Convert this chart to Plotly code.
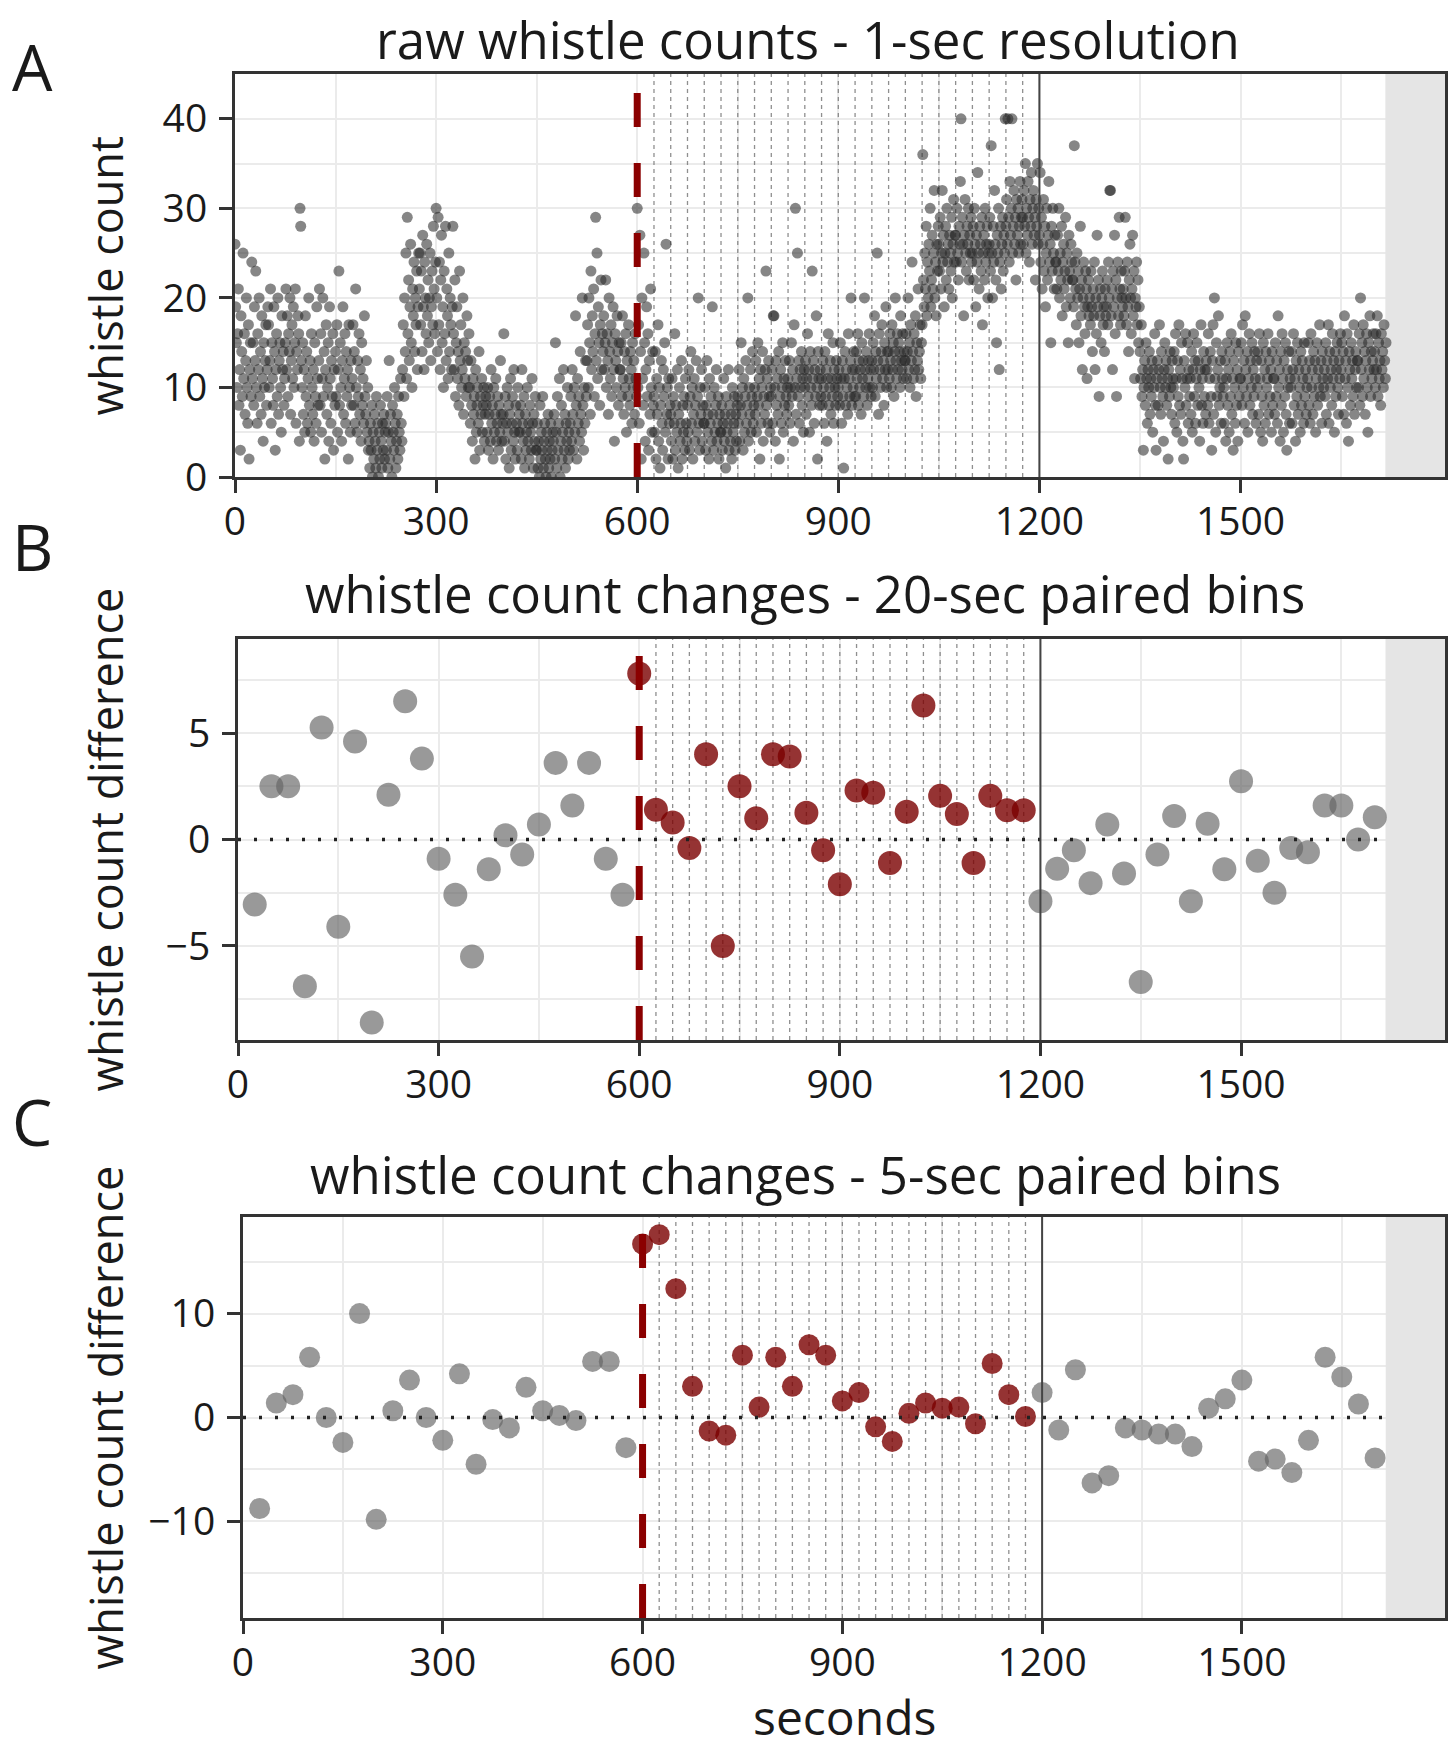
import plotly.graph_objects as go

# the page's default body margin is removed in post_script, so the figure fills the window
PAGE_OFF = 0
WF, HF = 1454, 1750
FONT = "Open Sans"

# ---------------- data ----------------
# Panel A: raw whistle counts, one value per second
whistle_counts_1s = [
    26, 19, 15, 10, 16, 21, 8, 12, 3, 18, 14, 9, 25, 11, 16, 7, 13, 20, 10, 6, 17, 2, 12, 15, 9,
    24, 11, 15, 8, 19, 13, 23, 10, 6, 16, 12, 20, 9, 14, 7, 18, 11, 4, 15, 10, 13, 17, 8, 12, 19,
    17, 10, 13, 21, 6, 15, 11, 8, 19, 14, 3, 12, 16, 9, 20, 7, 13, 15, 10, 5, 18, 12, 14, 8, 11,
    15, 21, 12, 18, 9, 16, 14, 20, 7, 13, 17, 11, 19, 10, 15, 21, 6, 14, 12, 18, 16, 4, 30, 28, 13,
    10, 15, 7, 12, 5, 18, 9, 14, 6, 11, 20, 8, 13, 5, 16, 10, 7, 12, 4, 15, 9, 6, 19, 11, 8,
    13, 21, 8, 16, 5, 11, 20, 9, 14, 2, 12, 17, 7, 10, 15, 4, 19, 11, 6, 13, 9, 16, 3, 12, 8,
    14, 9, 17, 5, 12, 23, 8, 15, 10, 4, 13, 19, 7, 11, 16, 6, 14, 9, 12, 2, 17, 10, 5, 13, 8,
    11, 17, 8, 14, 6, 21, 10, 5, 13, 9, 16, 7, 12, 4, 15, 8, 11, 6, 18, 9, 7, 13, 5, 10, 3,
    4, 1, 6, 3, 8, 0, 5, 2, 7, 4, 1, 9, 3, 6, 0, 5, 2, 8, 4, 1, 6, 3, 7, 2, 5,
    6, 3, 9, 1, 5, 13, 2, 7, 4, 0, 8, 5, 3, 10, 6, 1, 4, 7, 2, 9, 5, 3, 11, 6, 4,
    12, 17, 9, 20, 14, 25, 11, 29, 16, 22, 13, 19, 26, 15, 10, 21, 18, 24, 14, 20, 17, 23, 12, 19, 25,
    21, 25, 17, 23, 14, 27, 19, 12, 24, 20, 16, 26, 18, 22, 15, 20, 25, 13, 19, 23, 17, 28, 21, 16, 24,
    30, 20, 14, 29, 17, 24, 12, 22, 27, 15, 19, 10, 23, 16, 28, 13, 21, 18, 11, 25, 14, 20, 17, 12, 19,
    28, 16, 12, 22, 9, 15, 19, 11, 14, 8, 23, 13, 17, 10, 12, 20, 7, 15, 11, 14, 9, 18, 13, 10, 16,
    10, 6, 13, 8, 4, 11, 7, 9, 2, 12, 5, 8, 10, 6, 14, 3, 9, 7, 11, 5, 8, 10, 4, 7, 9,
    8, 5, 10, 3, 7, 9, 4, 12, 6, 8, 2, 10, 5, 7, 11, 4, 6, 9, 3, 8, 5, 13, 7, 4, 6,
    7, 16, 4, 9, 2, 6, 10, 5, 8, 1, 7, 11, 3, 6, 9, 4, 12, 5, 2, 8, 6, 3, 10, 5, 7,
    5, 8, 2, 12, 6, 4, 9, 1, 7, 3, 5, 10, 4, 6, 2, 8, 5, 3, 11, 6, 1, 7, 4, 9, 3,
    3, 6, 1, 4, 0, 8, 2, 5, 3, 9, 1, 4, 6, 2, 0, 5, 3, 7, 1, 4, 2, 6, 0, 3, 5,
    4, 7, 2, 15, 5, 1, 9, 3, 6, 11, 0, 4, 8, 2, 5, 12, 3, 7, 1, 6, 4, 10, 2, 5, 3,
    6, 9, 4, 12, 7, 3, 10, 5, 18, 8, 2, 11, 6, 9, 4, 14, 7, 5, 20, 8, 3, 10, 6, 13, 9,
    13, 17, 10, 20, 15, 7, 23, 12, 18, 14, 21, 9, 16, 29, 13, 25, 11, 19, 15, 8, 17, 22, 12, 16, 14,
    18, 12, 15, 22, 10, 16, 13, 7, 20, 14, 11, 17, 9, 15, 19, 12, 4, 16, 13, 10, 18, 14, 8, 15, 12,
    12, 15, 9, 18, 11, 7, 14, 10, 16, 5, 13, 9, 17, 11, 8, 14, 12, 6, 15, 10, 13, 7, 16, 11, 9,
    30, 10, 17, 6, 27, 14, 2, 20, 11, 8, 25, 15, 4, 12, 19, 9, 16, 3, 13, 7, 21, 10, 5, 14, 8,
    9, 5, 14, 2, 11, 7, 17, 4, 10, 1, 8, 13, 6, 3, 12, 9, 15, 5, 26, 7, 10, 2, 11, 6, 8,
    7, 4, 11, 2, 9, 6, 16, 3, 8, 5, 12, 1, 7, 10, 4, 6, 13, 2, 8, 5, 9, 3, 11, 6, 4,
    8, 5, 12, 3, 9, 14, 6, 10, 2, 7, 11, 4, 8, 13, 5, 9, 20, 6, 3, 10, 7, 12, 4, 8, 6,
    6, 10, 3, 8, 13, 5, 7, 2, 11, 6, 9, 4, 19, 7, 3, 10, 5, 8, 12, 4, 6, 9, 2, 7, 5,
    5, 8, 3, 6, 11, 4, 7, 1, 9, 5, 6, 12, 3, 8, 4, 7, 2, 10, 5, 6, 9, 3, 7, 4, 8,
    9, 6, 12, 4, 8, 15, 7, 10, 3, 11, 5, 9, 13, 6, 8, 20, 4, 10, 7, 12, 5, 9, 14, 6, 8,
    10, 7, 13, 5, 9, 15, 8, 11, 2, 12, 6, 10, 14, 4, 9, 7, 12, 23, 8, 11, 6, 13, 9, 5, 10,
    9, 12, 6, 18, 18, 10, 4, 13, 8, 11, 7, 14, 2, 9, 12, 6, 10, 15, 5, 11, 8, 13, 9, 7, 10,
    11, 8, 13, 6, 10, 15, 9, 12, 4, 17, 10, 30, 7, 11, 25, 9, 13, 6, 12, 10, 14, 8, 11, 5, 12,
    10, 13, 7, 11, 16, 9, 12, 5, 14, 10, 8, 23, 11, 13, 6, 12, 9, 18, 10, 2, 14, 11, 8, 12, 9,
    11, 8, 13, 10, 6, 14, 9, 12, 4, 11, 16, 8, 10, 13, 7, 11, 9, 15, 6, 12, 10, 8, 13, 11, 9,
    10, 12, 8, 15, 11, 6, 13, 9, 1, 11, 14, 8, 12, 10, 7, 16, 11, 9, 13, 20, 8, 12, 10, 14, 9,
    12, 9, 14, 11, 16, 8, 13, 10, 12, 7, 15, 11, 13, 9, 20, 12, 10, 14, 8, 11, 13, 16, 10, 12, 9,
    13, 10, 15, 12, 18, 9, 14, 11, 25, 13, 7, 16, 12, 10, 14, 17, 11, 13, 8, 15, 12, 19, 10, 14, 12,
    14, 11, 16, 13, 10, 17, 12, 15, 9, 14, 20, 13, 11, 16, 12, 15, 14, 10, 18, 13, 12, 16, 11, 14, 13,
    13, 16, 11, 14, 20, 12, 15, 10, 17, 13, 24, 14, 11, 16, 12, 18, 9, 15, 13, 21, 12, 14, 17, 11, 15,
    17, 36, 22, 19, 25, 21, 28, 18, 24, 20, 26, 23, 30, 19, 22, 27, 21, 25, 32, 20, 24, 18, 26, 23, 28,
    26, 23, 29, 21, 25, 32, 24, 27, 19, 25, 28, 22, 30, 24, 26, 21, 27, 25, 23, 29, 20, 26, 31, 24, 27,
    27, 24, 30, 25, 22, 28, 26, 33, 40, 24, 29, 26, 18, 27, 31, 25, 23, 28, 26, 30, 22, 27, 25, 29, 24,
    25, 28, 22, 30, 26, 19, 27, 24, 34, 25, 21, 28, 26, 23, 29, 17, 25, 27, 22, 30, 24, 26, 28, 20, 25,
    26, 29, 23, 37, 25, 20, 28, 24, 32, 26, 22, 15, 27, 25, 30, 12, 24, 28, 21, 26, 29, 23, 27, 25, 40,
    28, 31, 26, 40, 29, 24, 33, 27, 30, 40, 25, 28, 32, 26, 29, 22, 31, 27, 30, 25, 28, 33, 26, 29, 31,
    29, 26, 32, 28, 35, 25, 30, 27, 33, 29, 24, 31, 28, 34, 26, 30, 32, 27, 29, 22, 31, 28, 35, 26, 30,
    27, 34, 24, 29, 21, 26, 31, 23, 28, 19, 25, 30, 22, 27, 33, 24, 26, 15, 28, 23, 30, 25, 21, 27, 24,
    24, 21, 27, 23, 30, 20, 25, 22, 28, 18, 24, 26, 21, 23, 29, 19, 25, 22, 15, 27, 23, 20, 26, 24, 22,
    22, 19, 37, 24, 21, 17, 25, 20, 23, 15, 21, 28, 18, 22, 12, 20, 24, 19, 16, 23, 21, 11, 19, 22, 18,
    20, 17, 23, 19, 14, 21, 18, 24, 12, 20, 16, 27, 19, 22, 9, 18, 21, 15, 20, 23, 17, 19, 14, 21, 18,
    19, 22, 17, 24, 20, 32, 32, 18, 21, 12, 23, 19, 27, 16, 22, 9, 20, 24, 18, 29, 21, 17, 23, 20, 19,
    21, 18, 23, 29, 20, 17, 24, 19, 14, 22, 26, 20, 16, 21, 27, 18, 23, 11, 20, 19, 24, 17, 22, 15, 19,
    14, 11, 17, 9, 12, 3, 10, 13, 8, 15, 11, 6, 12, 10, 14, 7, 11, 9, 13, 5, 12, 10, 16, 8, 3,
    11, 13, 8, 12, 17, 10, 7, 14, 11, 9, 4, 12, 15, 10, 13, 8, 11, 2, 12, 9, 14, 10, 7, 13, 11,
    10, 14, 6, 16, 11, 5, 13, 9, 17, 8, 12, 7, 15, 11, 4, 2, 13, 10, 16, 8, 11, 15, 6, 12, 9,
    11, 7, 14, 5, 12, 16, 9, 13, 6, 11, 15, 8, 13, 10, 4, 12, 17, 8, 11, 6, 14, 9, 12, 7, 13,
    12, 8, 16, 6, 11, 14, 9, 3, 13, 17, 7, 20, 11, 5, 15, 9, 12, 18, 8, 10, 13, 6, 14, 11, 9,
    10, 6, 13, 4, 11, 15, 8, 12, 5, 14, 9, 16, 7, 11, 3, 13, 10, 6, 15, 8, 12, 4, 14, 9, 11,
    11, 15, 8, 17, 10, 13, 6, 18, 12, 9, 14, 5, 11, 16, 8, 13, 10, 15, 7, 12, 9, 14, 11, 6, 13,
    10, 14, 7, 16, 11, 5, 13, 9, 4, 15, 8, 12, 6, 14, 10, 11, 16, 7, 13, 9, 12, 5, 14, 8, 11,
    11, 7, 15, 9, 13, 6, 18, 10, 12, 4, 14, 8, 16, 11, 5, 13, 9, 15, 7, 3, 12, 10, 14, 6, 11,
    10, 14, 6, 12, 16, 8, 11, 4, 13, 9, 15, 7, 12, 10, 5, 14, 8, 13, 11, 6, 15, 9, 12, 7, 10,
    11, 15, 8, 13, 6, 16, 10, 12, 7, 14, 9, 13, 5, 11, 15, 8, 12, 10, 17, 9, 13, 6, 14, 11, 10,
    12, 9, 15, 7, 13, 11, 17, 6, 14, 10, 12, 8, 16, 11, 13, 5, 14, 9, 12, 15, 10, 7, 13, 11, 16,
    12, 15, 9, 14, 7, 18, 11, 13, 6, 16, 10, 4, 14, 12, 8, 15, 11, 13, 9, 17, 7, 12, 14, 10, 13,
    13, 10, 16, 8, 20, 12, 15, 9, 17, 11, 14, 7, 13, 16, 10, 5, 15, 12, 18, 9, 14, 11, 13, 16, 12,
    14, 10, 16, 12, 18, 9, 15, 11, 13, 8, 16, 12, 14, 10, 17, 13, 11, 15,
]
seconds_1s = list(range(len(whistle_counts_1s)))

# Panels B and C: paired-bin differences, one point every 25 s
bin_seconds = list(range(25, 1701, 25))
diff_20s = [
    -3.05, 2.5, 2.5, -6.9, 5.26, -4.1, 4.6, -8.6, 2.1, 6.5, 3.8, -0.9, -2.6, -5.5, -1.4, 0.2,
    -0.7, 0.7, 3.6, 1.6, 3.6, -0.9, -2.6,
    7.8, 1.4, 0.8, -0.4, 4.0, -5.0, 2.5, 1.0, 4.0, 3.9, 1.26, -0.5, -2.1, 2.3, 2.2, -1.1, 1.3,
    6.3, 2.05, 1.2, -1.1, 2.05, 1.37, 1.37,
    -2.9, -1.37, -0.5, -2.05, 0.7, -1.6, -6.7, -0.7, 1.1, -2.9, 0.74, -1.4, 2.74, -1.0, -2.5,
    -0.4, -0.6, 1.6, 1.6, 0.0, 1.05,
]
diff_5s = [
    -8.76, 1.4, 2.2, 5.8, 0.0, -2.4, 10.0, -9.8, 0.65, 3.6, 0.0, -2.2, 4.2, -4.5, -0.2, -1.0,
    2.9, 0.65, 0.2, -0.3, 5.4, 5.4, -2.9,
    16.7, 17.6, 12.4, 3.0, -1.3, -1.7, 6.0, 1.0, 5.8, 3.0, 7.0, 6.0, 1.6, 2.4, -0.9, -2.3, 0.4,
    1.4, 0.9, 1.0, -0.6, 5.2, 2.2, 0.1,
    2.4, -1.2, 4.6, -6.3, -5.6, -1.0, -1.2, -1.6, -1.6, -2.8, 0.9, 1.8, 3.6, -4.2, -4.0, -5.3,
    -2.2, 5.8, 3.9, 1.3, -3.9,
]

stim_start, stim_end = 600, 1200
stim_marks = list(range(625, 1200, 25))
data_end = 1716
x_max = 1805

titles = ["raw whistle counts - 1-sec resolution",
          "whistle count changes - 20-sec paired bins",
          "whistle count changes - 5-sec paired bins"]
ylabels = ["whistle count", "whistle count difference", "whistle count difference"]
letters = ["A", "B", "C"]
xticks = [0, 300, 600, 900, 1200, 1500]

# ---------------- layout (pixel geometry, in window pixels) ----------------
panels = [
    dict(key="", left=235, right=1445, top=74, bottom=477, yrange=[0, 45], yticks=[0, 10, 20, 30, 40],
         yminor=5, title_y=39, title_x=808, letter_y=67),
    dict(key="2", left=238, right=1445, top=639, bottom=1040, yrange=[-9.42, 9.42], yticks=[-5, 0, 5],
         yminor=2.5, title_y=593, title_x=805, letter_y=547),
    dict(key="3", left=243, right=1445, top=1217, bottom=1618, yrange=[-19.3, 19.3], yticks=[-10, 0, 10],
         yminor=5, title_y=1174, title_x=795, letter_y=1121),
]


def px_x(px):
    return (px - PAGE_OFF) / WF


def px_y(py):
    return 1 - (py - PAGE_OFF) / HF


GRID = "#ebebeb"
FRAME = "#333333"
TXT = "#1a1a1a"
GRAY_PT = "rgba(100,100,100,0.66)"
RED_PT = "rgba(122,0,0,0.80)"

fig = go.Figure()
shapes = []
annotations = []
layout_axes = {}

for i, p in enumerate(panels):
    k = p["key"]
    xa, ya = "x" + k, "y" + k
    y0, y1 = p["yrange"]
    # grey shaded tail (trace so it sits above the grid)
    fig.add_trace(go.Scatter(x=[data_end, x_max, x_max, data_end, data_end], y=[y0, y0, y1, y1, y0],
                             mode="lines", fill="toself", fillcolor="#e5e5e5", line=dict(width=0),
                             xaxis=xa, yaxis=ya, showlegend=False, hoverinfo="skip"))
    # thin dashed marks during stimulus
    mx, my = [], []
    for s in stim_marks:
        mx += [s, s, None]
        my += [y0, y1, None]
    fig.add_trace(go.Scatter(x=mx, y=my, mode="lines", xaxis=xa, yaxis=ya,
                             line=dict(color="rgba(115,115,115,0.8)", width=1.3, dash="4px,4px"),
                             showlegend=False, hoverinfo="skip"))

# Panel A points
fig.add_trace(go.Scatter(x=seconds_1s, y=whistle_counts_1s, mode="markers", xaxis="x", yaxis="y",
                         marker=dict(size=11, color="rgba(40,40,40,0.56)", line=dict(width=0)),
                         showlegend=False, hoverinfo="skip"))

for vals, key, size in [(diff_20s, "2", 24), (diff_5s, "3", 21)]:
    gx = [s for s, v in zip(bin_seconds, vals) if not (stim_start <= s < stim_end)]
    gy = [v for s, v in zip(bin_seconds, vals) if not (stim_start <= s < stim_end)]
    rx = [s for s, v in zip(bin_seconds, vals) if stim_start <= s < stim_end]
    ry = [v for s, v in zip(bin_seconds, vals) if stim_start <= s < stim_end]
    fig.add_trace(go.Scatter(x=gx, y=gy, mode="markers", xaxis="x" + key, yaxis="y" + key,
                             marker=dict(size=size, color=GRAY_PT, line=dict(width=0)),
                             showlegend=False, hoverinfo="skip"))
    fig.add_trace(go.Scatter(x=rx, y=ry, mode="markers", xaxis="x" + key, yaxis="y" + key,
                             marker=dict(size=size, color=RED_PT, line=dict(width=0)),
                             showlegend=False, hoverinfo="skip"))

for i, p in enumerate(panels):
    k = p["key"]
    xa, ya = "x" + k, "y" + k
    layout_axes["xaxis" + k] = dict(
        domain=[px_x(p["left"]), px_x(p["right"])], anchor=ya, range=[0, x_max],
        tickmode="array", tickvals=xticks, ticks="outside", ticklen=13, tickwidth=3, tickcolor=FRAME,
        ticklabelstandoff=-5,
        showline=True, mirror=True, linecolor=FRAME, linewidth=3,
        showgrid=True, gridcolor=GRID, gridwidth=2, zeroline=False,
        minor=dict(tickmode="linear", tick0=0, dtick=150, showgrid=True, gridcolor=GRID, gridwidth=2, ticks=""),
        tickfont=dict(family=FONT, size=39, color=TXT), automargin=False, fixedrange=True,
    )
    layout_axes["yaxis" + k] = dict(
        domain=[px_y(p["bottom"]), px_y(p["top"])], anchor=xa, range=p["yrange"],
        tickmode="array", tickvals=p["yticks"], ticks="outside", ticklen=13, tickwidth=3, tickcolor=FRAME,
        ticklabelstandoff=4,
        showline=True, mirror=True, linecolor=FRAME, linewidth=3,
        showgrid=True, gridcolor=GRID, gridwidth=2, zeroline=False,
        minor=dict(tickmode="linear", tick0=0, dtick=p["yminor"], showgrid=True, gridcolor=GRID, gridwidth=2, ticks=""),
        tickfont=dict(family=FONT, size=39, color=TXT), automargin=False, fixedrange=True,
    )
    yd = ya + " domain"
    if i > 0:
        shapes.append(dict(type="line", xref=xa, yref=ya, x0=0, x1=data_end, y0=0, y1=0,
                           line=dict(color="#222222", width=3.5, dash="3px,13px"), layer="above"))
    shapes.append(dict(type="line", xref=xa, yref=yd, x0=stim_end, x1=stim_end, y0=0, y1=1,
                       line=dict(color="#444444", width=2), layer="above"))
    shapes.append(dict(type="line", xref=xa, yref=yd, x0=stim_start, x1=stim_start, y0=0, y1=1,
                       line=dict(color="#8b0000", width=7, dash="34px,36px"), layer="above"))

    annotations.append(dict(text=titles[i], xref="paper", yref="paper", x=px_x(p["title_x"]),
                            y=px_y(p["title_y"]), xanchor="center", yanchor="middle", showarrow=False,
                            font=dict(family=FONT, size=51, color=TXT)))
    annotations.append(dict(text=ylabels[i], xref="paper", yref="paper", x=px_x(105),
                            y=px_y((p["top"] + p["bottom"]) / 2), xanchor="center", yanchor="middle",
                            textangle=-90, showarrow=False, font=dict(family=FONT, size=45, color=TXT)))
    annotations.append(dict(text=letters[i], xref="paper", yref="paper", x=px_x(10),
                            y=px_y(p["letter_y"]), xanchor="left", yanchor="middle", showarrow=False,
                            font=dict(family=FONT, size=64, color=TXT)))

annotations.append(dict(text="seconds", xref="paper", yref="paper", x=px_x(844), y=px_y(1716),
                        xanchor="center", yanchor="middle", showarrow=False,
                        font=dict(family=FONT, size=48, color=TXT)))

fig.update_layout(
    width=WF, height=HF, autosize=False,
    margin=dict(l=0, r=0, t=0, b=0),
    paper_bgcolor="white", plot_bgcolor="white",
    font=dict(family=FONT, color=TXT),
    shapes=shapes, annotations=annotations, showlegend=False,
    **layout_axes,
)

fig.write_html("out.html", config={"displayModeBar": False, "staticPlot": True},
               post_script="document.body.style.margin='0px';document.body.style.overflow='hidden';")
